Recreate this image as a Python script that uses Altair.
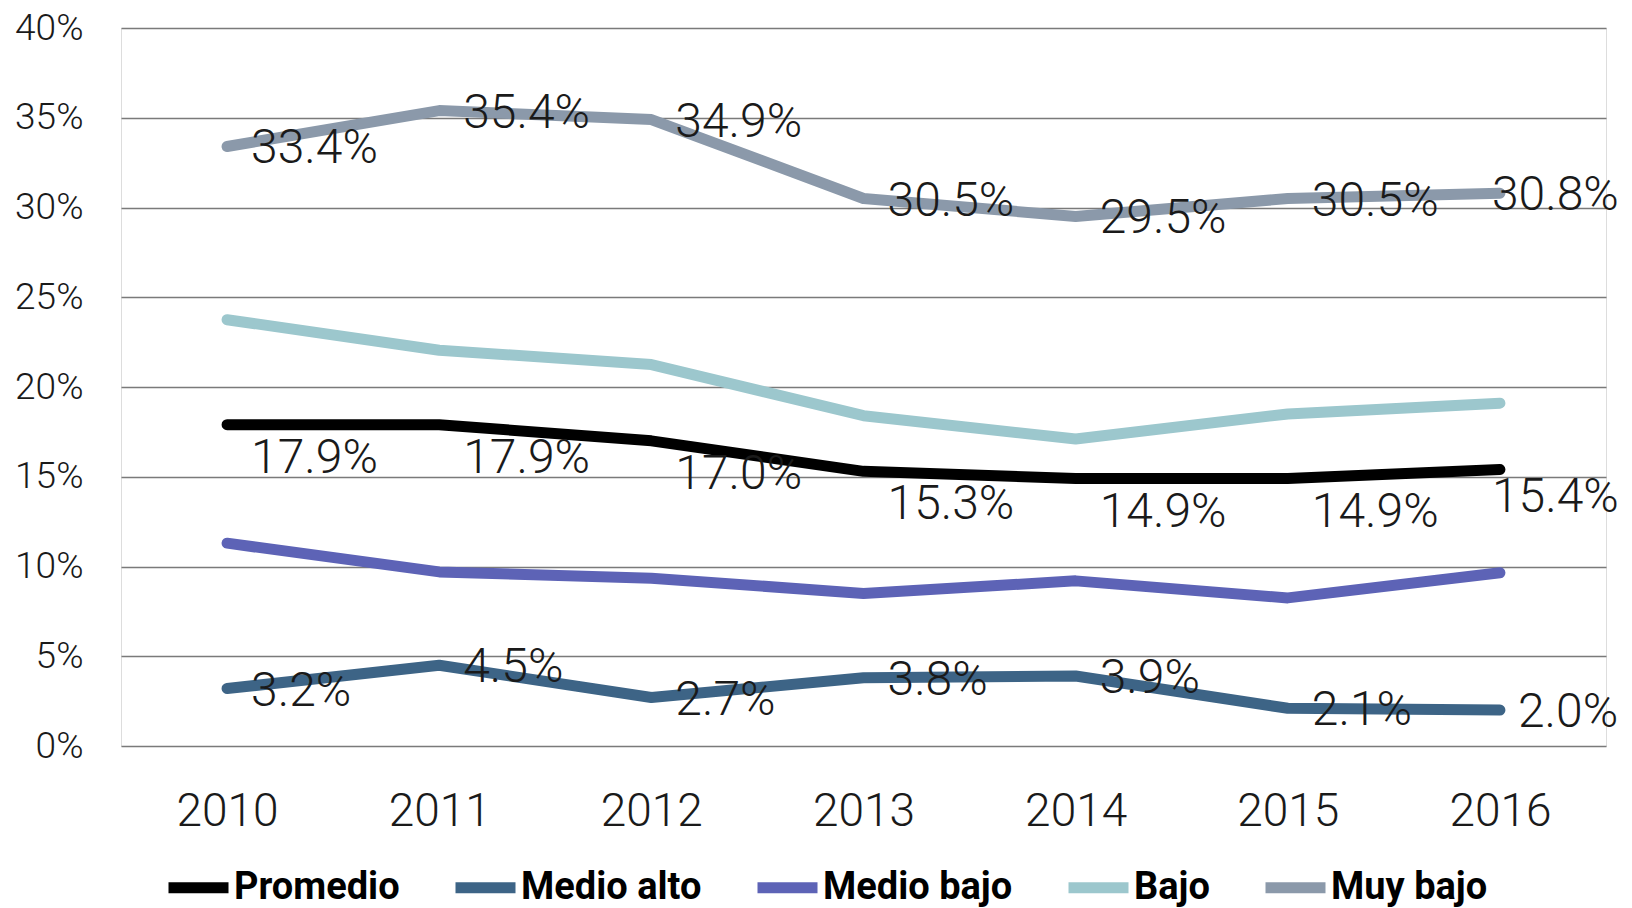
import altair as alt
import pandas as pd

years = ["2010", "2011", "2012", "2013", "2014", "2015", "2016"]
series_names = ["Promedio", "Medio alto", "Medio bajo", "Bajo", "Muy bajo"]
colors = ["#000000", "#3D6486", "#5D63B6", "#9CC7CD", "#8B99AA"]

promedio = [17.9, 17.9, 17.0, 15.3, 14.9, 14.9, 15.4]
medio_alto = [3.2, 4.5, 2.7, 3.8, 3.9, 2.1, 2.0]
medio_bajo = [11.3, 9.7, 9.35, 8.5, 9.2, 8.25, 9.65]
bajo = [23.75, 22.05, 21.25, 18.4, 17.1, 18.5, 19.1]
muy_bajo = [33.4, 35.4, 34.9, 30.5, 29.5, 30.5, 30.8]

values = [promedio, medio_alto, medio_bajo, bajo, muy_bajo]
rows = []
for name, vals in zip(series_names, values):
    for y, v in zip(years, vals):
        rows.append({"year": y, "series": name, "value": v / 100.0})
df = pd.DataFrame(rows)

FONT = "Roboto"

x_enc = alt.X(
    "year:O",
    scale=alt.Scale(type="point", padding=0.5),
    axis=alt.Axis(
        title=None, ticks=False, domain=False, labelAngle=0,
        labelFontSize=46, labelFont=FONT, labelFontWeight=300,
        labelColor="#1a1a1a", labelPadding=43, grid=False,
    ),
)
y_enc = alt.Y(
    "value:Q",
    scale=alt.Scale(domain=[0, 0.40], nice=False),
    axis=alt.Axis(
        title=None, ticks=False, domain=False, format=".0%",
        values=[0, 0.05, 0.10, 0.15, 0.20, 0.25, 0.30, 0.35, 0.40],
        labelFontSize=37, labelFont=FONT, labelFontWeight=300,
        labelColor="#1a1a1a", labelPadding=38,
        grid=True, gridColor="#7a7a7a", gridWidth=1.5,
    ),
)

lines = alt.Chart(df).mark_line(
    strokeWidth=11, strokeCap="round", strokeJoin="round"
).encode(
    x=x_enc,
    y=y_enc,
    color=alt.Color(
        "series:N",
        scale=alt.Scale(domain=series_names, range=colors),
        legend=alt.Legend(
            title=None, orient="none", direction="horizontal",
            legendX=42, legendY=824, columns=5,
            symbolType="stroke", symbolSize=3600, symbolStrokeWidth=11,
            labelFont=FONT, labelFontWeight="bold", labelFontSize=38,
            labelColor="#000000", labelOffset=0, columnPadding=33,
            padding=0, labelLimit=400,
        ),
    ),
)


def labels(filter_expr, dx, dy):
    return alt.Chart(df).transform_filter(filter_expr).mark_text(
        align="left", baseline="middle", dx=dx, dy=dy,
        font=FONT, fontWeight=300, fontSize=48, color="#1a1a1a",
    ).encode(
        x=alt.X("year:O", scale=alt.Scale(type="point", padding=0.5)),
        y=alt.Y("value:Q"),
        text=alt.Text("value:Q", format=".1%"),
    )


lab_a = labels("(datum.series == 'Muy bajo' || datum.series == 'Medio alto') && datum.year != '2016'", 24, 3)
lab_b = labels("datum.series == 'Promedio' && datum.year != '2016'", 24, 34)
lab_c = labels("datum.series == 'Muy bajo' && datum.year == '2016'", -8, 3)
lab_d = labels("datum.series == 'Promedio' && datum.year == '2016'", -8, 28)
lab_e = labels("datum.series == 'Medio alto' && datum.year == '2016'", 18, 3)

chart = alt.layer(lines, lab_a, lab_b, lab_c, lab_d, lab_e).properties(
    width=1485,
    height=718,
    padding={"left": 113, "top": 20, "right": 18, "bottom": 162},
    autosize=alt.AutoSizeParams(type="none"),
).configure_view(strokeWidth=0).configure(background="white")

chart.save("out.html", embed_options={"renderer": "svg", "actions": False})
